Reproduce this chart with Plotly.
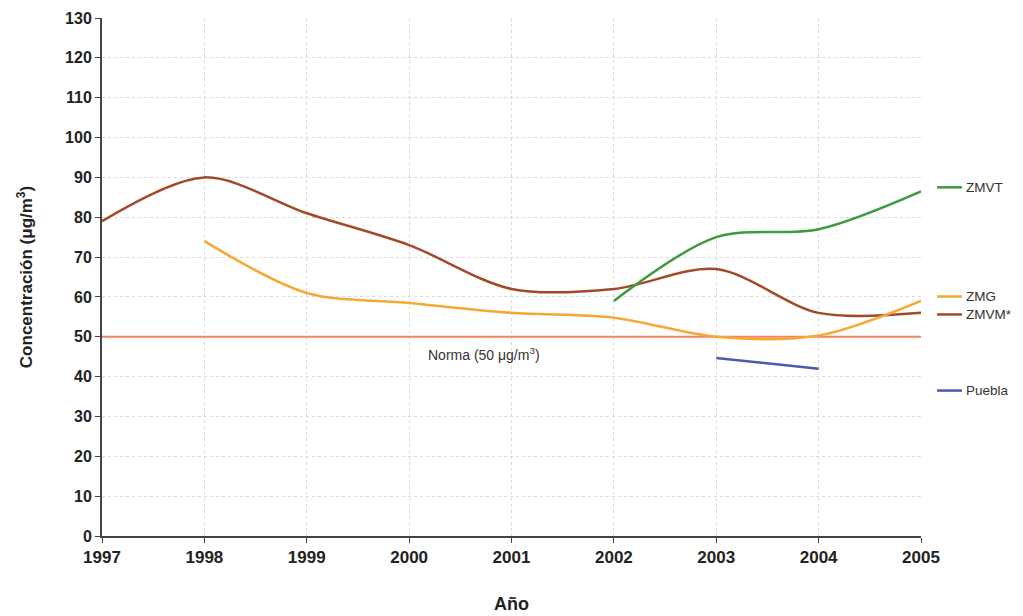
import plotly.graph_objects as go

years = [1997, 1998, 1999, 2000, 2001, 2002, 2003, 2004, 2005]
zmvm = [79, 90, 81, 73, 62, 62, 67, 56, 56]
zmg_years = [1998, 1999, 2000, 2001, 2002, 2003, 2004, 2005]
zmg = [74, 61, 58.5, 56, 54.8, 50, 50.3, 59]
zmvt_years = [2002, 2003, 2004, 2005]
zmvt = [59, 75, 77, 86.5]
puebla_years = [2003, 2004]
puebla = [44.7, 42]
norma_value = 50

series_labels = ["ZMVT", "ZMG", "ZMVM*", "Puebla"]
label_y = [87.5, 60.1, 55.6, 36.5]
colors = ["#3d9a3d", "#f7a833", "#a24a28", "#4a5aad"]

fig = go.Figure()
fig.add_trace(go.Scatter(x=[years[0], years[-1]], y=[norma_value, norma_value], mode="lines",
                         line=dict(color="#f2845f", width=2), showlegend=False, hoverinfo="skip"))
fig.add_trace(go.Scatter(x=years, y=zmvm, mode="lines", line=dict(color=colors[2], width=2.5, shape="spline", smoothing=0.9), showlegend=False))
fig.add_trace(go.Scatter(x=zmg_years, y=zmg, mode="lines", line=dict(color=colors[1], width=2.5, shape="spline", smoothing=0.9), showlegend=False))
fig.add_trace(go.Scatter(x=zmvt_years, y=zmvt, mode="lines", line=dict(color=colors[0], width=2.5, shape="spline", smoothing=0.9), showlegend=False))
fig.add_trace(go.Scatter(x=puebla_years, y=puebla, mode="lines", line=dict(color=colors[3], width=2.5), showlegend=False))

shapes = []
annotations = []
for lab, yv, c in zip(series_labels, label_y, colors):
    shapes.append(dict(type="line", xref="paper", yref="y", x0=1.0196, x1=1.050, y0=yv, y1=yv,
                       line=dict(color=c, width=2.5)))
    annotations.append(dict(xref="paper", yref="y", x=1.052, y=yv, text=lab, showarrow=False,
                            xanchor="left", yanchor="middle",
                            font=dict(family="Liberation Sans", size=13.5, color="#333")))

annotations.append(dict(x=2000.73, y=norma_value, yshift=-17, text="Norma (50 μg/m<sup>3</sup>)", showarrow=False,
                        font=dict(family="Liberation Sans", size=14, color="#333")))

fig.update_layout(
    width=1015, height=608,
    margin=dict(l=94, r=102, t=10, b=80),
    plot_bgcolor="white", paper_bgcolor="white",
    shapes=shapes, annotations=annotations,
    xaxis=dict(range=[1997, 2005], tickmode="array", tickvals=years, ticktext=[str(y) for y in years],
               automargin=False,
               showline=True, linecolor="#444", linewidth=2, ticks="outside", ticklen=5, tickcolor="#444",
               showgrid=True, gridcolor="#dadada", griddash="dot", gridwidth=1, zeroline=False,
               tickfont=dict(family="Liberation Sans", size=17, color="#222", weight="bold"),
               title=dict(text="<b>Año</b>", font=dict(family="Liberation Sans", size=18, color="#222"), standoff=31)),
    yaxis=dict(range=[0, 130], tickmode="linear", tick0=0, dtick=10,
               automargin=False,
               showline=True, linecolor="#444", linewidth=2, ticks="outside", ticklen=5, tickcolor="#444",
               showgrid=True, gridcolor="#dadada", griddash="dot", gridwidth=1, zeroline=False,
               tickfont=dict(family="Liberation Sans", size=16, color="#222", weight="bold"),
               title=dict(text="<b>Concentración (μg/m<sup>3</sup>)</b>", font=dict(family="Liberation Sans", size=17, color="#222"), standoff=28)),
)

fig.write_html("out.html")
